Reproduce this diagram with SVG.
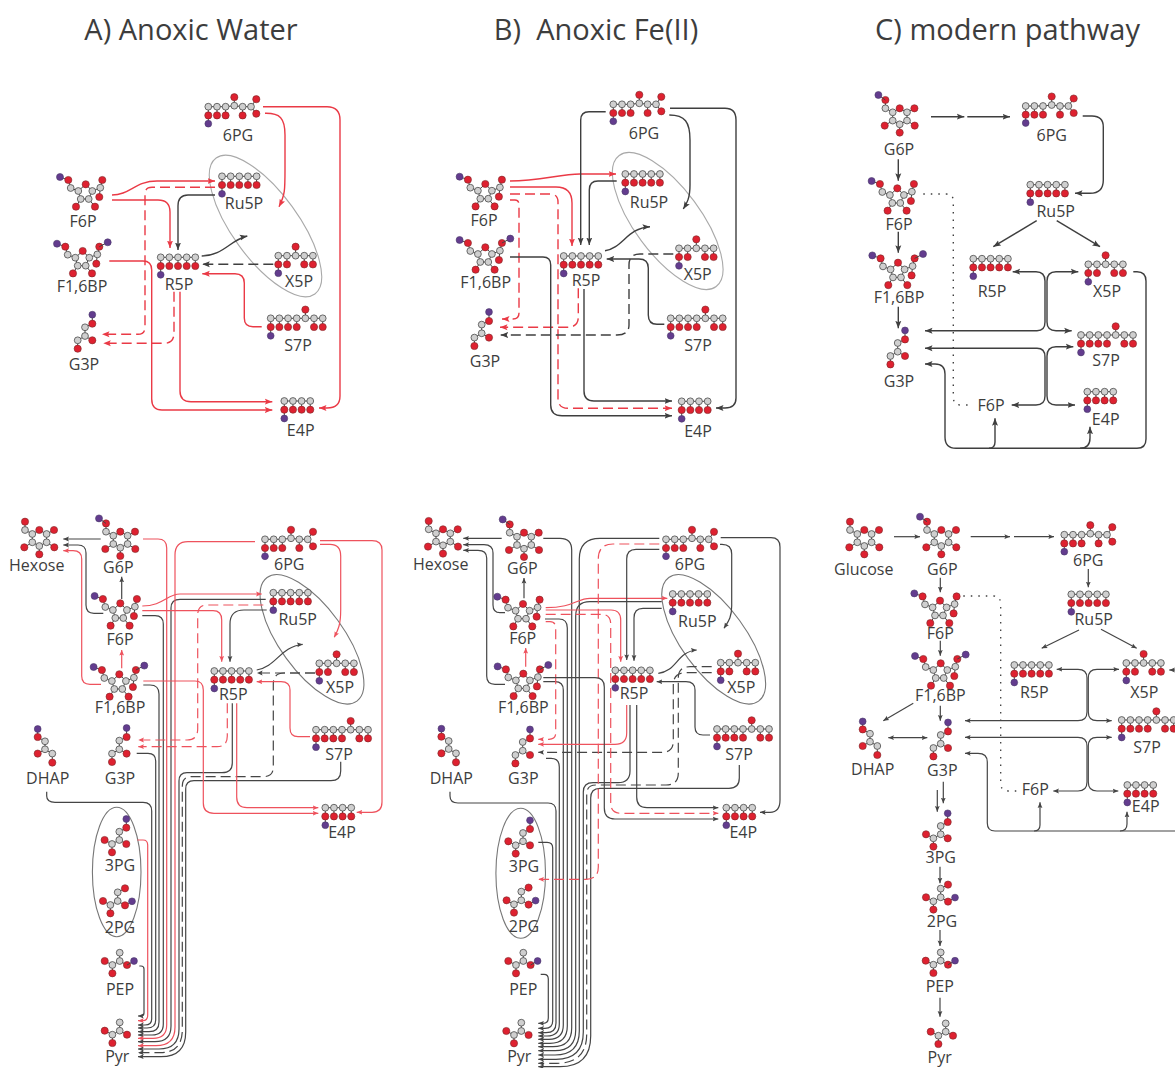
<svg xmlns="http://www.w3.org/2000/svg" width="1175" height="1068" viewBox="0 0 1175 1068">
<style>
text{font-family:"Open Sans","Noto Sans","Liberation Sans",sans-serif;fill:#3d3d3d;text-anchor:middle}
.t{font-size:29px}
.l{font-size:16px}
.c{fill:#cfcfcf;stroke:#4a4a4a;stroke-width:.8}
.o{fill:#de2130;stroke:#7a2a2a;stroke-width:.6}
.p{fill:#633c8e;stroke:#4a3a6a;stroke-width:.6}
.b{fill:none;stroke:#444;stroke-width:1}
.e{fill:none;stroke:#a9a9a9;stroke-width:1.1}
.e2{fill:none;stroke:#777;stroke-width:1.1}
#connectors path{fill:none;stroke-linecap:butt}
.k{stroke:#3f3f3f;stroke-width:1.4;marker-end:url(#ak)}
.r{stroke:#ea3a46;stroke-width:1.4;marker-end:url(#ar)}
.kd{stroke:#3f3f3f;stroke-width:1.4;stroke-dasharray:10 5;marker-end:url(#ak)}
.rd{stroke:#ea3a46;stroke-width:1.4;stroke-dasharray:10 5;marker-end:url(#ar)}
.dot{stroke:#3f3f3f;stroke-width:1.4;stroke-dasharray:1.5 6}
.bo{marker-start:url(#ak)}
.bot .k,.bot .kd{stroke-width:1.2;stroke:#454545;marker-end:url(#ak2)}
.bot .r,.bot .rd{stroke-width:1.2;stroke:#ee525d;marker-end:url(#ar2)}
.bot .bo{marker-start:url(#ak2)}
.bot .dot{stroke-width:1.3}
</style>
<defs>
<marker id="ak" markerUnits="userSpaceOnUse" markerWidth="8" markerHeight="7" refX="7.5" refY="3.5" orient="auto-start-reverse"><path d="M0 .5L7.5 3.5L0 6.5L1.5 3.5z" fill="#3f3f3f"/></marker>
<marker id="ar" markerUnits="userSpaceOnUse" markerWidth="8" markerHeight="7" refX="7.5" refY="3.5" orient="auto-start-reverse"><path d="M0 .5L7.5 3.5L0 6.5L1.5 3.5z" fill="#ea3a46"/></marker>
<marker id="ak2" markerUnits="userSpaceOnUse" markerWidth="6" markerHeight="6" refX="5.6" refY="3" orient="auto-start-reverse"><path d="M0 .6L5.6 3L0 5.4L1 3z" fill="#454545"/></marker>
<marker id="ar2" markerUnits="userSpaceOnUse" markerWidth="6" markerHeight="6" refX="5.6" refY="3" orient="auto-start-reverse"><path d="M0 .6L5.6 3L0 5.4L1 3z" fill="#ee525d"/></marker>
<g id="co"><path class="b" d="M0 0V8.7"/><circle class="o" cy="8.7" r="3.6"/><circle class="c" r="3.4"/></g>
<g id="gc"><circle class="c" r="3.4"/></g>
<g id="fru"><path class="b" d="M-25.7-7.3L-17.4-4.3L-15 3.7L-7.4 6.7L0 0L6.6 6.7L14.6 3.4L16.6-4.3M14.6 3.4L13.6 12.7M6.6 6.7L3 14.7L-5 14.7L-7.4 6.7M-5 14.7L-9.7 22.4M3 14.7L9.3 22.4"/>
<circle class="p" cx="-25.7" cy="-7.3" r="3.5"/><circle class="o" cx="-17.4" cy="-4.3" r="3.6"/><circle class="c" cx="-15" cy="3.7" r="3.4"/><circle class="c" cx="-7.4" cy="6.7" r="3.4"/><circle class="o" r="3.6"/><circle class="c" cx="6.6" cy="6.7" r="3.4"/><circle class="c" cx="14.6" cy="3.4" r="3.4"/><circle class="o" cx="16.6" cy="-4.3" r="3.6"/><circle class="o" cx="13.6" cy="12.7" r="3.6"/><circle class="c" cx="3" cy="14.7" r="3.4"/><circle class="c" cx="-5" cy="14.7" r="3.4"/><circle class="o" cx="-9.7" cy="22.4" r="3.6"/><circle class="o" cx="9.3" cy="22.4" r="3.6"/></g>
<g id="fbp"><use href="#fru"/><path class="b" d="M16.6-4.3L25-8.7"/><circle class="p" cx="25" cy="-8.7" r="3.5"/></g>
<g id="glc"><path class="b" d="M-14.3-8.3V0L-7 4L0 0L7.3 4L14.7 0M-7 4V12.3L0 16L7.3 12.3V4M-7 12.3L-15 17.3M7.3 12.3L15 17.3M0 16V24.3"/>
<circle class="o" cx="-14.3" cy="-8.3" r="3.6"/><circle class="c" cx="-14.3" r="3.4"/><circle class="c" cx="-7" cy="4" r="3.4"/><circle class="o" r="3.6"/><circle class="c" cx="7.3" cy="4" r="3.4"/><circle class="o" cx="14.7" r="3.6"/><circle class="c" cx="-7" cy="12.3" r="3.4"/><circle class="c" cy="16" r="3.4"/><circle class="c" cx="7.3" cy="12.3" r="3.4"/><circle class="o" cx="-15" cy="17.3" r="3.6"/><circle class="o" cx="15" cy="17.3" r="3.6"/><circle class="o" cy="24.3" r="3.6"/></g>
<g id="g6p"><use href="#glc"/><path class="b" d="M-14.3-8.3L-21.3-13.3"/><circle class="p" cx="-21.3" cy="-13.3" r="3.5"/></g>
<g id="pg6"><path class="b" d="M0 0H17.3L26-1L34.3 0H42.7L48-7.5M42.7 0L48 7M26-1V-9.5M0 8.7V17"/><use href="#co"/><use href="#co" x="8.7"/><use href="#co" x="17.3"/><use href="#gc" x="26" y="-1"/><use href="#co" x="34.3"/><use href="#gc" x="42.7"/><circle class="o" cx="26" cy="-9.5" r="3.6"/><circle class="o" cx="48" cy="-7.5" r="3.6"/><circle class="o" cx="48" cy="7" r="3.6"/><circle class="p" cy="17" r="3.4"/></g>
<g id="p5"><path class="b" d="M0 0H34.6M0 8.7V17.5"/><use href="#co"/><use href="#co" x="8.65"/><use href="#co" x="17.3"/><use href="#co" x="25.95"/><use href="#co" x="34.6"/><circle class="p" cy="17.5" r="3.4"/></g>
<g id="p4"><path class="b" d="M0 0H26M0 8.7V17.5"/><use href="#co"/><use href="#co" x="8.65"/><use href="#co" x="17.3"/><use href="#co" x="25.95"/><circle class="p" cy="17.5" r="3.4"/></g>
<g id="x5"><path class="b" d="M0 0H34.6M17.3 0V-9M0 8.7V17.5"/><use href="#co"/><use href="#co" x="8.65"/><use href="#gc" x="17.3"/><use href="#co" x="25.95"/><use href="#co" x="34.6"/><circle class="o" cx="17.3" cy="-9" r="3.6"/><circle class="p" cy="17.5" r="3.4"/></g>
<g id="s7"><path class="b" d="M0 0H52M34.7 0V-8.7M0 8.7V17.5"/><use href="#co"/><use href="#co" x="8.67"/><use href="#co" x="17.33"/><use href="#co" x="26"/><use href="#gc" x="34.67"/><use href="#co" x="43.33"/><use href="#co" x="52"/><circle class="o" cx="34.67" cy="-8.7" r="3.6"/><circle class="p" cy="17.5" r="3.4"/></g>
<g id="g3"><path class="b" d="M7.3-21.3V-12.3L0-8.7V0L-7.3 4.3V12.7M0 0L7.3 4.3"/><circle class="p" cx="7.3" cy="-21.3" r="3.4"/><circle class="o" cx="7.3" cy="-12.3" r="3.6"/><use href="#gc" y="-8.7"/><use href="#gc"/><use href="#gc" x="-7.3" y="4.3"/><circle class="o" cx="7.3" cy="4.3" r="3.6"/><circle class="o" cx="-7.3" cy="12.7" r="3.6"/></g>
<g id="dh"><path class="b" d="M-7.3-20.3V-12.3L0-8V0L-7.3 4.3M0 0L7.3 4.3V13.3"/><circle class="p" cx="-7.3" cy="-20.3" r="3.4"/><circle class="o" cx="-7.3" cy="-12.3" r="3.6"/><use href="#gc" y="-8"/><use href="#gc"/><circle class="o" cx="-7.3" cy="4.3" r="3.6"/><use href="#gc" x="7.3" y="4.3"/><circle class="o" cx="7.3" cy="13.3" r="3.6"/></g>
<g id="g3p"><path class="b" d="M7-21V-12.3L0-8.3V0L-7.3 4L-14.7 0M0 0L7 4M-7.3 4V12.3"/><circle class="p" cx="7" cy="-21" r="3.4"/><circle class="o" cx="7" cy="-12.3" r="3.6"/><use href="#gc" y="-8.3"/><use href="#gc"/><circle class="o" cx="7" cy="4" r="3.6"/><use href="#gc" x="-7.3" y="4"/><circle class="o" cx="-14.7" r="3.6"/><circle class="o" cx="-7.3" cy="12.3" r="3.6"/></g>
<g id="g2p"><path class="b" d="M7.3-12.7L0-8.7V0L-7.3 4L-14.7 0M0 0L7.3 4.3L14.3 .3M-7.3 4V12.3"/><circle class="o" cx="7.3" cy="-12.7" r="3.6"/><use href="#gc" y="-8.7"/><use href="#gc"/><use href="#gc" x="-7.3" y="4"/><circle class="o" cx="-14.7" r="3.6"/><circle class="o" cx="-7.3" cy="12.3" r="3.6"/><circle class="o" cx="7.3" cy="4.3" r="3.6"/><circle class="p" cx="14.3" cy=".3" r="3.4"/></g>
<g id="pyr"><path class="b" d="M0-8.3V0L-7.3 4L-15 0M0 0L7.3 4M-7.3 4V12.3"/><use href="#gc" y="-8.3"/><use href="#gc"/><use href="#gc" x="-7.3" y="4"/><circle class="o" cx="-15" r="3.6"/><circle class="o" cx="-7.3" cy="12.3" r="3.6"/><circle class="o" cx="7.3" cy="4" r="3.6"/></g>
<g id="pep"><use href="#pyr"/><path class="b" d="M7.3 4L14.3 0"/><circle class="p" cx="14.3" r="3.4"/></g>
</defs>
<rect width="1175" height="1068" fill="#fff"/>
<g id="titles">
<text class="t" x="191" y="40">A) Anoxic Water</text>
<text class="t" x="596" y="40" xml:space="preserve">B)  Anoxic Fe(II)</text>
<text class="t" x="1007.5" y="40">C) modern pathway</text>
</g>
<g id="groupings">
<ellipse class="e" cx="265.5" cy="226" rx="84" ry="33" transform="rotate(54 265.5 226)"/>
<ellipse class="e" cx="667.7" cy="221" rx="81.5" ry="33" transform="rotate(53.5 667.7 221)"/>
<ellipse class="e2" cx="312" cy="639.3" rx="76.4" ry="32" transform="rotate(54 312 639.3)"/>
<ellipse class="e2" cx="713.7" cy="639.3" rx="76.4" ry="32" transform="rotate(54 713.7 639.3)"/>
<ellipse class="e2" cx="116.7" cy="872" rx="24.3" ry="64.7"/>
<ellipse class="e2" cx="520.7" cy="873.3" rx="24.8" ry="65"/>
</g>
<g id="connectors">
<g id="conn-A-top">
<path class="r" d="M112 195C130 195 135 181 157 181H215"/>
<path class="r" d="M112 200H158Q170 200 170 212V248"/>
<path class="rd" d="M215 187.3H152Q145 187.3 145 194V327Q145 334.3 138 334.3H102"/>
<path class="k" d="M215 195H188Q178 195 178 206V250"/>
<path class="r" d="M265 113.3C280 113 285 118 285 135V170C285 190 285 195 279 206.7"/>
<path class="r" d="M263 106.7H327Q340 106.7 340 120V396Q340 408 327 408H319"/>
<path class="k" d="M201.7 256C223 256 230 240 247.3 236"/>
<path class="kd" d="M273.3 264.3H202.3"/>
<path class="r" d="M261.7 326.7H253Q244.3 326.7 244.3 318V283Q244.3 273.7 235 273.7H202.3"/>
<path class="r" d="M109.3 261H143Q151.7 261 151.7 270V399Q151.7 410 162 410H272.3"/>
<path class="r" d="M180 291.7V391Q180 401.7 191 401.7H272.3"/>
<path class="rd" d="M174 291.7V333Q174 343.3 164 343.3H103.3"/>
</g>
<g id="conn-B-top">
<path class="r" d="M510 181C540 181 560 174 580 174H616"/>
<path class="r" d="M510 187H556Q572 187 572 203V246"/>
<path class="rd" d="M510 194H550Q558 194 558 202V398Q558 408.3 568 408.3H672"/>
<path class="rd" d="M510 200H515Q519 200 519 205V313Q519 319 513 319H502"/>
<path class="rd" d="M578.3 288.3V317Q578.3 327.3 567 327.3H500"/>
<path class="kd" d="M673.3 254H640Q629 254 629 265V325Q629 335 617 335H500.7"/>
<path class="k" d="M664.3 324.3H657Q648.3 324.3 648.3 315V268Q648.3 259 639 259H606.7"/>
<path class="k" d="M605 250.7C623 248 627 228 650 226.7"/>
<path class="k" d="M616.7 181H598Q589.3 181 589.3 190V245"/>
<path class="k" d="M605.7 111.7H589Q580.7 111.7 580.7 120V245"/>
<path class="k" d="M669.3 115C685 115 690 122 690 140V185C690 198 687 203 683.3 209"/>
<path class="k" d="M670 108.3H725Q736 108.3 736 120V398Q736 408 725 408H716"/>
<path class="k" d="M510 257H543Q550.7 257 550.7 265V405Q550.7 415.7 562 415.7H672"/>
<path class="k" d="M584 289V391Q584 401 594 401H672"/>
</g>
<g id="conn-C-top">
<path class="k" d="M931 116.7H964.3"/>
<path class="k" d="M967.3 116.7H1010"/>
<path class="k" d="M1082.7 116H1092Q1103.3 116 1103.3 127V180Q1103.3 193.3 1090 193.3H1075"/>
<path class="k" d="M898.3 159.3V180.7"/>
<path class="k" d="M898.3 231.7V252.7"/>
<path class="k" d="M898.3 306.7V328.3"/>
<path class="k" d="M1036.7 220.7L993.3 246.7"/>
<path class="k" d="M1056.7 220.7L1100 246.7"/>
<path class="dot" d="M923.3 194H946Q953.3 194 953.3 201V397Q953.3 405 961 405H973"/>
<path class="k bo" d="M925 330.7H1037Q1045 330.7 1045 322V281Q1045 271.7 1036 271.7H1012.7"/>
<path class="k bo" d="M1078.3 271.7H1056Q1047 271.7 1047 281V322Q1047 330.7 1056 330.7H1071.7"/>
<path class="k bo" d="M925 348.3H1037Q1045 348.3 1045 357V396Q1045 405 1036 405H1011.7"/>
<path class="k bo" d="M1073.3 346.7H1056Q1047 346.7 1047 356V396Q1047 405 1056 405H1075"/>
<path class="k" d="M1133.3 271.7H1137Q1146 271.7 1146 281V439Q1146 448.3 1137 448.3H956Q945 448.3 945 437V374Q945 364 935 364H925"/>
<path class="k" d="M989 448.3Q995 448.3 995 442V418.3"/>
<path class="k" d="M1080 448.3Q1090 448.3 1090 438V426.7"/>
</g>
<g id="conn-A-bottom" class="bot">
<path class="k" d="M100.7 539H63.3"/>
<path class="k" d="M103.3 613.3H94Q86 613.3 86 605V553Q86 545 78 545H63.3"/>
<path class="r" d="M101 684.3H90Q81.7 684.3 81.7 676V559Q81.7 550.7 73 550.7H63.3"/>
<path class="k" d="M121.7 599V576.7"/>
<path class="r" d="M121.7 668.3V650"/>
<path class="k" d="M139.3 966H141Q144 966 144 969V1013Q144 1016 141 1016H138"/>
<path class="r" d="M137.3 840H143Q147.7 840 147.7 845V1015Q147.7 1020.7 143 1020.7H138"/>
<path class="k" d="M46.7 791.7V796Q46.7 802.3 55 802.3H143Q151.7 802.3 151.7 811V1019Q151.7 1025 145 1025H138"/>
<path class="k" d="M136.7 753.3H148Q155.7 753.3 155.7 761V1020Q155.7 1028 147 1028H138"/>
<path class="k" d="M143.3 685H150Q159 685 159 694V1022Q159 1031.7 149 1031.7H138"/>
<path class="k" d="M142.3 615.7H155Q163.3 615.7 163.3 624V1024Q163.3 1035 152 1035H138"/>
<path class="r" d="M143 539H158Q166.7 539 166.7 548V1025Q166.7 1038.3 153 1038.3H138"/>
<path class="k" d="M265.7 599.3H180Q171 599.3 171 608V1026Q171 1041.7 155 1041.7H138"/>
<path class="r" d="M255 541.7H188Q175 541.7 175 555V1027Q175 1045.7 156 1045.7H138"/>
<path class="k" d="M232.3 703.3V763Q232.3 772.7 222 772.7H187Q179 772.7 179 781V1029Q179 1049 159 1049H138"/>
<path class="kd" d="M315 673H284Q273.3 673 273.3 684V767Q273.3 776.7 263 776.7H191Q182.3 776.7 182.3 786V1030Q182.3 1052.7 160 1052.7H138"/>
<path class="kd" d="M315 673H257"/>
<path class="k" d="M340.7 761.7V771Q340.7 780.7 331 780.7H194Q185.7 780.7 185.7 789V1032Q185.7 1056.7 161 1056.7H138"/>
<path class="r" d="M142.3 606C163 606 167 594 180 594H261.7"/>
<path class="r" d="M142.3 610.7H213Q221.7 610.7 221.7 620V661.7"/>
<path class="rd" d="M263.3 605H207Q197.7 605 197.7 615V729Q197.7 740 187 740H138.3"/>
<path class="rd" d="M227.3 703.3V736Q227.3 746.7 217 746.7H138.3"/>
<path class="k" d="M266.7 610H244Q230 610 230 624V661.7"/>
<path class="k" d="M256.7 670C276.7 666.7 280 646.7 302.7 644.3"/>
<path class="r" d="M310 736.7H298Q290 736.7 290 728V690Q290 681.7 281 681.7H256.7"/>
<path class="r" d="M320 544.3H330Q340.7 544.3 340.7 556V610C340.7 625 338 630 334.3 637.3"/>
<path class="r" d="M320 540.7H372Q382 540.7 382 550V802Q382 812.3 372 812.3H356.7"/>
<path class="r" d="M143.3 681H195Q203.3 681 203.3 690V803Q203.3 813.3 214 813.3H318.3"/>
<path class="r" d="M236.7 703.3V797Q236.7 807.7 247 807.7H318.3"/>
</g>
<g id="conn-B-bottom" class="bot">
<path class="k" d="M501.7 538.3H463.3"/>
<path class="k" d="M505 612.7H500Q493 612.7 493 605V553Q493 544.7 484 544.7H463.3"/>
<path class="k" d="M505 684.3H495Q486.7 684.3 486.7 676V558Q486.7 550.3 478 550.3H463.3"/>
<path class="k" d="M524 598.3V578"/>
<path class="r" d="M525.7 666.7V648"/>
<path class="k" d="M540.7 974.3H544Q548.3 974.3 548.3 979V1018Q548.3 1023.3 543 1023.3H538.3"/>
<path class="k" d="M538.3 842.3H547Q552.7 842.3 552.7 848V1021Q552.7 1028.3 545 1028.3H538.3"/>
<path class="k" d="M450 791.7V796Q450 803 458 803H548Q556 803 556 811V1023Q556 1032.7 546 1032.7H538.3"/>
<path class="k" d="M546 758.3H551Q559.3 758.3 559.3 767V1024Q559.3 1036 547 1036H538.3"/>
<path class="k" d="M543.3 681.7H555Q563.3 681.7 563.3 690V1025Q563.3 1039.3 549 1039.3H538.3"/>
<path class="k" d="M545 619H559Q567.3 619 567.3 628V1026Q567.3 1043.3 550 1043.3H538.3"/>
<path class="k" d="M543.3 538.3H560Q571.7 538.3 571.7 550V1028Q571.7 1046.7 553 1046.7H538.3"/>
<path class="k" d="M661.7 601.7H590Q575.7 601.7 575.7 616V1030Q575.7 1050.7 555 1050.7H538.3"/>
<path class="k" d="M659.3 538.3H600Q579.3 538.3 579.3 559V1031Q579.3 1055 555 1055H538.3"/>
<path class="k" d="M630 705V771Q630 782.7 618 782.7H593Q583.3 782.7 583.3 792V1032Q583.3 1059.3 556 1059.3H538.3"/>
<path class="kd" d="M711.7 666.7H690Q678.3 666.7 678.3 678V773Q678.3 785 666 785H596Q586.7 785 586.7 794V1034Q586.7 1063.3 557 1063.3H538.3"/>
<path class="k" d="M739.3 765V778Q739.3 788.3 729 788.3H600Q590.7 788.3 590.7 798V1036Q590.7 1066.7 560 1066.7H538.3"/>
<path class="kd" d="M711.7 672.7H686Q673.3 672.7 673.3 685V741Q673.3 752.3 662 752.3H538.3"/>
<path class="r" d="M545.7 607.7C573.3 607.7 577 598.3 590 598.3H667.3"/>
<path class="r" d="M545.7 610H611Q620.7 610 620.7 620V661.7"/>
<path class="rd" d="M545.7 614.3H601Q610.7 614.3 610.7 624V803Q610.7 813.3 621 813.3H718.3"/>
<path class="rd" d="M545.7 621.7H550Q555.7 621.7 555.7 628V733Q555.7 739.3 549 739.3H538.3"/>
<path class="r" d="M626.7 705V733Q626.7 744.3 615 744.3H538.3"/>
<path class="rd" d="M659.3 544H613Q598.3 544 598.3 559V867Q598.3 879.3 586 879.3H538.3"/>
<path class="k" d="M543.3 677.7H595Q604.3 677.7 604.3 687V808Q604.3 819 615 819H718.3"/>
<path class="k" d="M636.7 705V797Q636.7 807.7 647 807.7H718.3"/>
<path class="k" d="M720.7 537.7H771Q780 537.7 780 547V800Q780 812.3 770 812.3H760"/>
<path class="k" d="M720 544.3H722Q731.7 544.3 731.7 554V606C731.7 618 728 622 724 628.3"/>
<path class="k" d="M659.3 549.3H636Q626.7 549.3 626.7 559V660"/>
<path class="k" d="M661.7 608.3H643Q634 608.3 634 618V660.7"/>
<path class="k" d="M658.3 673.3C676.7 671.7 676.7 651.7 696.7 650"/>
<path class="k" d="M710 735H703Q695 735 695 727V690Q695 681.7 686 681.7H656.7"/>
</g>
<g id="conn-C-bottom" class="bot">
<path class="k" d="M894 536.7H920"/>
<path class="k" d="M970.7 536.7H1010"/>
<path class="k" d="M1014 536.7H1054"/>
<path class="k" d="M1088.3 569V587.3"/>
<path class="k" d="M940.3 577.7V592.3"/>
<path class="k" d="M940.3 640.7V655.7"/>
<path class="k" d="M940.3 705.7V720.7"/>
<path class="k" d="M913.3 703.3L883.3 720.7"/>
<path class="k bo" d="M888.3 737.7H927.3"/>
<path class="k" d="M943.3 781.7V803.3"/>
<path class="k" d="M937.3 790V811.7"/>
<path class="k" d="M940 866.7V883.3"/>
<path class="k" d="M940 930V946"/>
<path class="k" d="M940 997.7V1016.7"/>
<path class="k" d="M1079 630L1041.7 648.3"/>
<path class="k" d="M1101 629.3L1136.7 648.3"/>
<path class="dot" d="M963.3 596H993Q1000.7 596 1000.7 604V783Q1000.7 791 1008 791H1018.3"/>
<path class="k bo" d="M965 720.7H1078Q1087 720.7 1087 712V678Q1087 669.3 1078 669.3H1056.7"/>
<path class="k bo" d="M1119 669.3H1097Q1088.3 669.3 1088.3 678V712Q1088.3 720.7 1097 720.7H1111.7"/>
<path class="k bo" d="M965 737.3H1078Q1087 737.3 1087 746V782Q1087 791 1078 791H1053.3"/>
<path class="k bo" d="M1111.7 737.3H1097Q1088.3 737.3 1088.3 746V782Q1088.3 791 1097 791H1118.3"/>
<path class="k" d="M1175 831H995Q987.3 831 987.3 823V762Q987.3 753.3 978 753.3H965"/>
<path class="k" d="M1034 831Q1040 831 1040 825V802.3"/>
<path class="k" d="M1120 831Q1127 831 1127 824V811.7"/>
<path class="k" d="M1175 670H1169.3"/>
</g>
</g>
<g id="A-6PG"><use href="#pg6" x="208.3" y="106.7"/><text class="l" x="238" y="141">6PG</text></g>
<g id="A-Ru5P"><use href="#p5" x="222" y="176.3"/><text class="l" x="244" y="209">Ru5P</text></g>
<g id="A-F6P"><use href="#fru" x="85.7" y="184.3"/><text class="l" x="83" y="227">F6P</text></g>
<g id="A-F16BP"><use href="#fbp" x="82.7" y="251"/><text class="l" x="82" y="292">F1,6BP</text></g>
<g id="A-R5P"><use href="#p5" x="160.7" y="257.3"/><text class="l" x="179" y="290">R5P</text></g>
<g id="A-X5P"><use href="#x5" x="278.3" y="255.7"/><text class="l" x="299" y="287">X5P</text></g>
<g id="A-S7P"><use href="#s7" x="270.7" y="318.3"/><text class="l" x="298" y="351">S7P</text></g>
<g id="A-G3P"><use href="#g3" x="85" y="336"/><text class="l" x="84" y="370">G3P</text></g>
<g id="A-E4P"><use href="#p4" x="284.3" y="401"/><text class="l" x="300.7" y="436">E4P</text></g>
<g id="B-6PG"><use href="#pg6" x="613.3" y="104.3"/><text class="l" x="644" y="139">6PG</text></g>
<g id="B-Ru5P"><use href="#p5" x="625.3" y="174"/><text class="l" x="649" y="208">Ru5P</text></g>
<g id="B-F6P"><use href="#fru" x="485.3" y="184"/><text class="l" x="484" y="226">F6P</text></g>
<g id="B-F16BP"><use href="#fbp" x="485.3" y="247.3"/><text class="l" x="485.7" y="288">F1,6BP</text></g>
<g id="B-R5P"><use href="#p5" x="563.7" y="256"/><text class="l" x="586" y="286">R5P</text></g>
<g id="B-X5P"><use href="#x5" x="679" y="248.3"/><text class="l" x="697.7" y="280">X5P</text></g>
<g id="B-S7P"><use href="#s7" x="670.7" y="318.3"/><text class="l" x="698" y="351">S7P</text></g>
<g id="B-G3P"><use href="#g3" x="481.7" y="333.3"/><text class="l" x="485" y="367">G3P</text></g>
<g id="B-E4P"><use href="#p4" x="681.7" y="401.3"/><text class="l" x="698" y="437">E4P</text></g>
<g id="C-G6P"><use href="#g6p" x="899.7" y="108.3"/><text class="l" x="899" y="155">G6P</text></g>
<g id="C-6PG"><use href="#pg6" x="1025.7" y="106"/><text class="l" x="1051.7" y="141">6PG</text></g>
<g id="C-Ru5P"><use href="#p5" x="1030.3" y="184.7"/><text class="l" x="1055.7" y="217">Ru5P</text></g>
<g id="C-F6P"><use href="#fru" x="897.3" y="188.3"/><text class="l" x="899" y="230">F6P</text></g>
<g id="C-F16BP"><use href="#fbp" x="898" y="262.7"/><text class="l" x="899" y="303">F1,6BP</text></g>
<g id="C-R5P"><use href="#p5" x="973.3" y="258.7"/><text class="l" x="992" y="297">R5P</text></g>
<g id="C-X5P"><use href="#x5" x="1088.3" y="264.3"/><text class="l" x="1107" y="297">X5P</text></g>
<g id="C-S7P"><use href="#s7" x="1081" y="335"/><text class="l" x="1106" y="366">S7P</text></g>
<g id="C-E4P"><use href="#p4" x="1087.3" y="391.7"/><text class="l" x="1105.7" y="425">E4P</text></g>
<g id="C-G3P"><use href="#g3" x="897.7" y="351.7"/><text class="l" x="899" y="387">G3P</text></g>
<g id="C-F6Pb"><text class="l" x="991" y="411">F6P</text></g>
<g id="D-Hexose"><use href="#glc" x="39.3" y="530"/><text class="l" x="36.7" y="571">Hexose</text></g>
<g id="D-G6P"><use href="#g6p" x="120.3" y="531.7"/><text class="l" x="118.3" y="573">G6P</text></g>
<g id="D-F6P"><use href="#fru" x="120.3" y="603.3"/><text class="l" x="120" y="645">F6P</text></g>
<g id="D-F16BP"><use href="#fbp" x="119.3" y="674.3"/><text class="l" x="120" y="713">F1,6BP</text></g>
<g id="D-6PG"><use href="#pg6" x="265" y="539.3"/><text class="l" x="289.3" y="570">6PG</text></g>
<g id="D-Ru5P"><use href="#p5" x="273.3" y="592.7"/><text class="l" x="297.7" y="625">Ru5P</text></g>
<g id="D-R5P"><use href="#p5" x="214.3" y="671"/><text class="l" x="233.3" y="700">R5P</text></g>
<g id="D-X5P"><use href="#x5" x="319.3" y="663.3"/><text class="l" x="340" y="693">X5P</text></g>
<g id="D-S7P"><use href="#s7" x="316" y="729.7"/><text class="l" x="339" y="760">S7P</text></g>
<g id="D-G3P"><use href="#g3" x="119.3" y="749.3"/><text class="l" x="120" y="784">G3P</text></g>
<g id="D-DHAP"><use href="#dh" x="45" y="749.3"/><text class="l" x="47.7" y="784">DHAP</text></g>
<g id="D-E4P"><use href="#p4" x="325.3" y="807.7"/><text class="l" x="342" y="838">E4P</text></g>
<g id="D-3PG"><use href="#g3p" x="119.3" y="840"/><text class="l" x="120" y="871">3PG</text></g>
<g id="D-2PG"><use href="#g2p" x="117.7" y="901"/><text class="l" x="120" y="933">2PG</text></g>
<g id="D-PEP"><use href="#pep" x="119.7" y="961"/><text class="l" x="120" y="995">PEP</text></g>
<g id="D-Pyr"><use href="#pyr" x="119.7" y="1030.7"/><text class="l" x="117.3" y="1062">Pyr</text></g>
<g id="E-Hexose"><use href="#glc" x="443" y="529.3"/><text class="l" x="440.7" y="570">Hexose</text></g>
<g id="E-G6P"><use href="#g6p" x="524" y="532.7"/><text class="l" x="522.3" y="574">G6P</text></g>
<g id="E-F6P"><use href="#fru" x="523" y="604"/><text class="l" x="522.7" y="644">F6P</text></g>
<g id="E-F16BP"><use href="#fbp" x="523.3" y="673.7"/><text class="l" x="523.3" y="713">F1,6BP</text></g>
<g id="E-6PG"><use href="#pg6" x="666" y="539.3"/><text class="l" x="690" y="570">6PG</text></g>
<g id="E-Ru5P"><use href="#p5" x="672.7" y="594"/><text class="l" x="697.3" y="627">Ru5P</text></g>
<g id="E-R5P"><use href="#p5" x="615.3" y="670.3"/><text class="l" x="634" y="699">R5P</text></g>
<g id="E-X5P"><use href="#x5" x="720.7" y="662.7"/><text class="l" x="741.3" y="693">X5P</text></g>
<g id="E-S7P"><use href="#s7" x="717" y="729"/><text class="l" x="739" y="760">S7P</text></g>
<g id="E-G3P"><use href="#g3" x="522.7" y="750.7"/><text class="l" x="523.3" y="784">G3P</text></g>
<g id="E-DHAP"><use href="#dh" x="448.7" y="749"/><text class="l" x="451.3" y="784">DHAP</text></g>
<g id="E-E4P"><use href="#p4" x="726.3" y="807.7"/><text class="l" x="743.3" y="838">E4P</text></g>
<g id="E-3PG"><use href="#g3p" x="523" y="841.3"/><text class="l" x="524" y="872">3PG</text></g>
<g id="E-2PG"><use href="#g2p" x="521.3" y="900.3"/><text class="l" x="524" y="932">2PG</text></g>
<g id="E-PEP"><use href="#pep" x="523.3" y="961"/><text class="l" x="523.3" y="995">PEP</text></g>
<g id="E-Pyr"><use href="#pyr" x="521.3" y="1031"/><text class="l" x="519.3" y="1062">Pyr</text></g>
<g id="F-Glucose"><use href="#glc" x="864.3" y="530"/><text class="l" x="863.7" y="575">Glucose</text></g>
<g id="F-G6P"><use href="#g6p" x="941.3" y="530"/><text class="l" x="942.3" y="575">G6P</text></g>
<g id="F-6PG"><use href="#pg6" x="1064.3" y="534.7"/><text class="l" x="1088.3" y="566">6PG</text></g>
<g id="F-Ru5P"><use href="#p5" x="1071.3" y="594.3"/><text class="l" x="1093.7" y="625">Ru5P</text></g>
<g id="F-F6P"><use href="#fru" x="940" y="600.7"/><text class="l" x="940.3" y="639">F6P</text></g>
<g id="F-F16BP"><use href="#fbp" x="940.7" y="663.3"/><text class="l" x="940.3" y="701">F1,6BP</text></g>
<g id="F-R5P"><use href="#p5" x="1014.3" y="665"/><text class="l" x="1034.3" y="698">R5P</text></g>
<g id="F-X5P"><use href="#x5" x="1126.3" y="663"/><text class="l" x="1144.3" y="698">X5P</text></g>
<g id="F-S7P"><use href="#s7" x="1121.7" y="720"/><text class="l" x="1147" y="753">S7P</text></g>
<g id="F-E4P"><use href="#p4" x="1127.3" y="785"/><text class="l" x="1145.7" y="812">E4P</text></g>
<g id="F-F6Pb"><text class="l" x="1035.3" y="795">F6P</text></g>
<g id="F-DHAP"><use href="#dh" x="870" y="741.7"/><text class="l" x="872.7" y="775">DHAP</text></g>
<g id="F-G3P"><use href="#g3" x="940.7" y="743.7"/><text class="l" x="942.3" y="776">G3P</text></g>
<g id="F-3PG"><use href="#g3p" x="940.7" y="834.3"/><text class="l" x="940.7" y="863">3PG</text></g>
<g id="F-2PG"><use href="#g2p" x="940.7" y="897.3"/><text class="l" x="942" y="927">2PG</text></g>
<g id="F-PEP"><use href="#pep" x="940.7" y="960.7"/><text class="l" x="939.7" y="992">PEP</text></g>
<g id="F-Pyr"><use href="#pyr" x="945.7" y="1031.7"/><text class="l" x="939.7" y="1063">Pyr</text></g>
</svg>
